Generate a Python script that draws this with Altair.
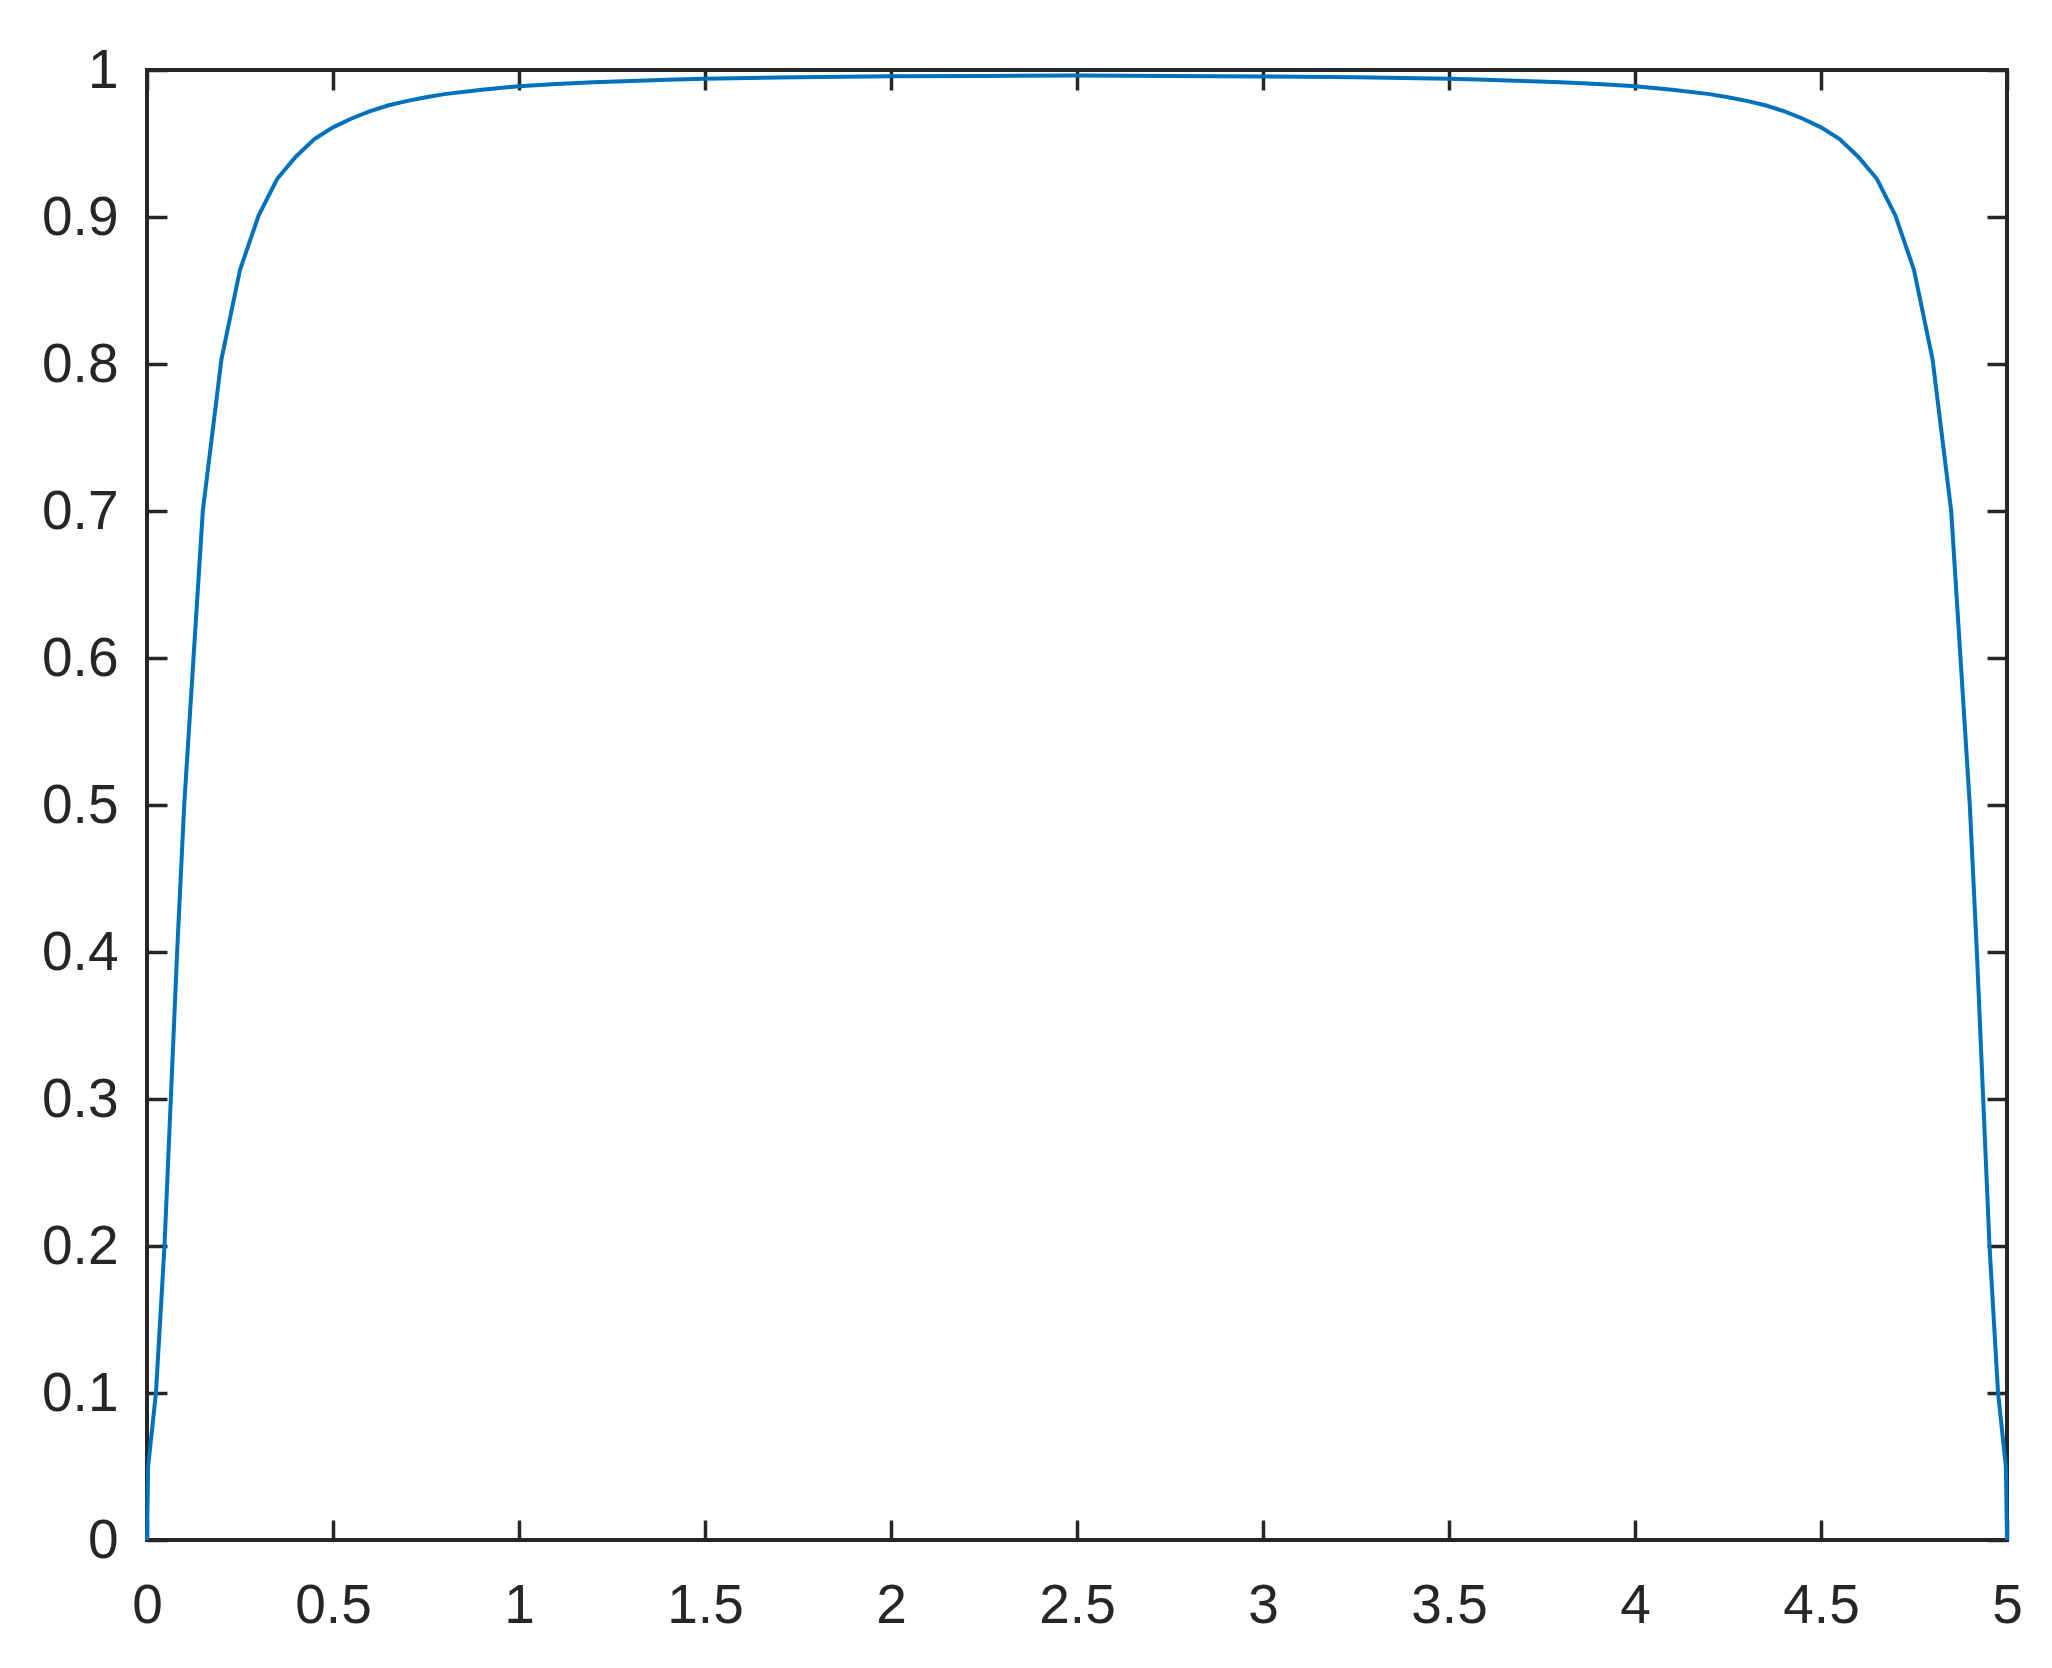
import altair as alt
import pandas as pd

# values
x_vals = [0.0, 0.003, 0.024, 0.047, 0.064, 0.081, 0.1, 0.125, 0.15, 0.2, 0.25, 0.3,
          0.35, 0.4, 0.45, 0.5, 0.55, 0.6, 0.65, 0.7, 0.75, 0.8, 0.9, 1.0, 1.1, 1.2,
          1.3, 1.4, 1.5, 1.75, 2.0, 2.25, 2.5, 2.75, 3.0, 3.25, 3.5, 3.6, 3.7, 3.8,
          3.9, 4.0, 4.1, 4.2, 4.25, 4.3, 4.35, 4.4, 4.45, 4.5, 4.55, 4.6, 4.65, 4.7,
          4.75, 4.8, 4.85, 4.875, 4.9, 4.919, 4.936, 4.953, 4.976, 4.997, 5.0]
y_vals = [0.0, 0.05, 0.10, 0.20, 0.30, 0.40, 0.50, 0.60, 0.70, 0.803, 0.864, 0.901,
          0.926, 0.941, 0.953, 0.961, 0.967, 0.972, 0.976, 0.979, 0.9815, 0.9836,
          0.9866, 0.989, 0.9905, 0.9916, 0.9926, 0.9934, 0.9940, 0.9951, 0.9957,
          0.9960, 0.9962, 0.9960, 0.9956, 0.9950, 0.9940, 0.9934, 0.9926, 0.9916,
          0.9905, 0.989, 0.9866, 0.9836, 0.9815, 0.979, 0.976, 0.972, 0.967, 0.961,
          0.953, 0.941, 0.926, 0.901, 0.864, 0.803, 0.70, 0.60, 0.50, 0.40, 0.30,
          0.20, 0.10, 0.05, 0.0]

x_ticks = [0, 0.5, 1, 1.5, 2, 2.5, 3, 3.5, 4, 4.5, 5]
y_ticks = [0, 0.1, 0.2, 0.3, 0.4, 0.5, 0.6, 0.7, 0.8, 0.9, 1]

df = pd.DataFrame({"x": x_vals, "y": y_vals})

INK = "#262626"
FONT = "Liberation Sans"
FS = 55
TICK = 20

common = dict(grid=False, domain=False, tickColor=INK, tickWidth=3.5, tickSize=TICK,
              offset=-TICK, title=None, labelFont=FONT, labelFontSize=FS,
              labelColor=INK, labelFlush=False, labelOverlap=False, format="~g")

xs = alt.Scale(domain=[0, 5], nice=False, zero=False)
ys = alt.Scale(domain=[0, 1], nice=False, zero=False)

line = alt.Chart(df).mark_line(color="#0072BD", strokeWidth=4).encode(
    x=alt.X("x:Q", scale=xs,
            axis=alt.Axis(orient="bottom", values=x_ticks, labelPadding=39, **common)),
    y=alt.Y("y:Q", scale=ys,
            axis=alt.Axis(orient="left", values=y_ticks, labelPadding=29, **common)),
)

mirror = alt.Chart(df).mark_line(strokeOpacity=0).encode(
    x=alt.X("x:Q", scale=xs,
            axis=alt.Axis(orient="top", values=x_ticks, labels=False, **common)),
    y=alt.Y("y:Q", scale=ys,
            axis=alt.Axis(orient="right", values=y_ticks, labels=False, **common)),
)

chart = alt.layer(mirror, line).resolve_axis(x="independent", y="independent").properties(
    width=1860,
    height=1470,
    autosize=alt.AutoSizeParams(type="none"),
    padding={"left": 139, "top": 62, "right": 37, "bottom": 120},
    background="white",
).configure_view(stroke=INK, strokeWidth=4)

chart.save("out.html", embed_options={"renderer": "svg", "actions": False})
